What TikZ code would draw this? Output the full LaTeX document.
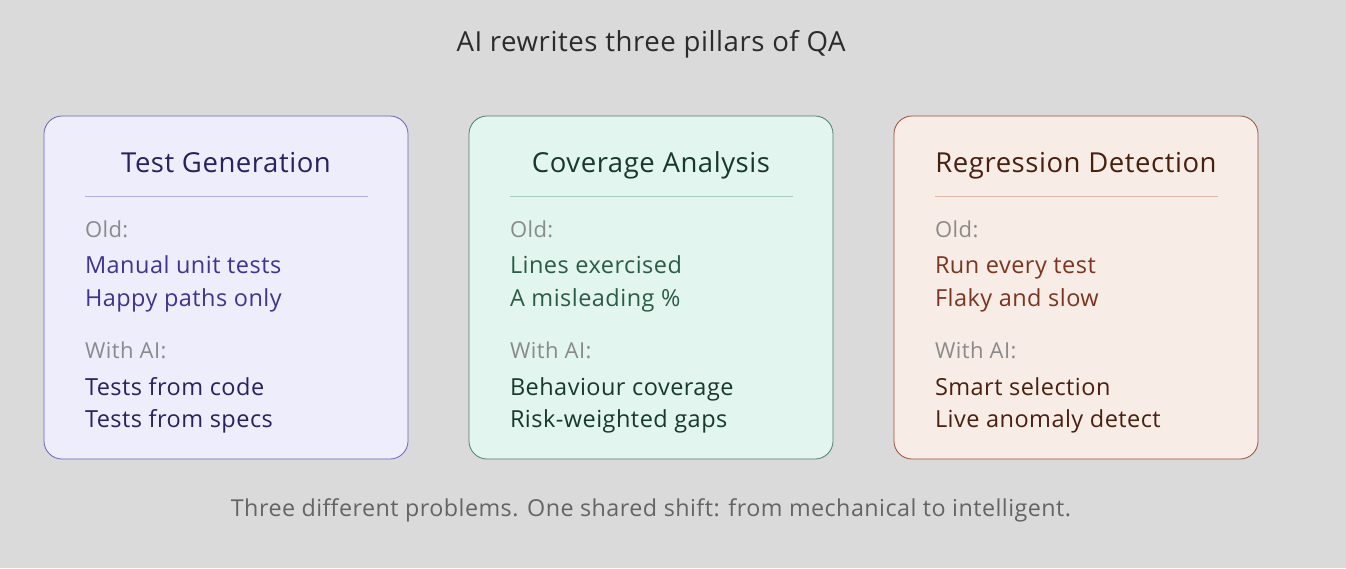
\documentclass[tikz,border=0pt]{standalone}
\usepackage{fontspec}
\setmainfont[LetterSpace=2]{Open Sans}
\begin{document}
\begin{tikzpicture}[x=1pt,y=-1pt,
  every node/.style={inner sep=0pt,outer sep=0pt},
  card/.style={rounded corners=18pt,line width=0.8pt},
  head/.style={anchor=base,font=\fontsize{27.5}{32}\selectfont},
  lab/.style={anchor=base west,font=\fontsize{22}{26}\selectfont,text=labgray},
  item/.style={anchor=base west,font=\fontsize{23.5}{28}\selectfont},
]
\definecolor{bg}{HTML}{DADADA}
\definecolor{labgray}{HTML}{8A8A8A}
\definecolor{titlec}{HTML}{2B2B2B}
\definecolor{footc}{HTML}{646464}
\definecolor{aFill}{HTML}{EEEDFC}\definecolor{aBord}{HTML}{6A62C2}\definecolor{aHead}{HTML}{28225E}\definecolor{aOld}{HTML}{3E3592}\definecolor{aDiv}{HTML}{B3ADEA}
\definecolor{bFill}{HTML}{E3F5EF}\definecolor{bBord}{HTML}{4C8069}\definecolor{bHead}{HTML}{17392C}\definecolor{bOld}{HTML}{2A5C47}\definecolor{bDiv}{HTML}{A9CCBE}
\definecolor{cFill}{HTML}{F8ECE7}\definecolor{cBord}{HTML}{9B5038}\definecolor{cHead}{HTML}{48200F}\definecolor{cOld}{HTML}{7A3620}\definecolor{cDiv}{HTML}{E1B6A6}
\fill[bg] (0,0) rectangle (1346,568);
\useasboundingbox (0,0) rectangle (1346,568);
\node[anchor=base,font=\fontsize{27.6}{32}\selectfont,text=titlec] (title) at (651,51) {AI rewrites three pillars of QA};
\foreach \x/\c/\h/\oa/\ob/\na/\nb in {
  44/a/Test Generation/Manual unit tests/Happy paths only/Tests from code/Tests from specs,
  469/b/Coverage Analysis/Lines exercised/A misleading \%/Behaviour coverage/Risk-weighted gaps,
  894/c/Regression Detection/Run every test/Flaky and slow/Smart selection/Live anomaly detect}{
  \draw[card,fill=\c Fill,draw=\c Bord] (\x,116) rectangle ++(364,343);
  \node[head,text=\c Head] (h\c) at (\x+182,172) {\h};
  \draw[\c Div,line width=0.8pt] (\x+41,196.5) -- (\x+324,196.5);
  \node[lab] (o\c) at (\x+41,237.5) {Old:};
  \node[item,text=\c Old] (oa\c) at (\x+41,273.5) {\oa};
  \node[item,text=\c Old] (ob\c) at (\x+41,306) {\ob};
  \node[lab] (w\c) at (\x+41,358.5) {With AI:};
  \node[item,text=\c Head] (na\c) at (\x+41,395) {\na};
  \node[item,text=\c Head] (nb\c) at (\x+41,427.5) {\nb};
}
\node[anchor=base,font=\fontsize{23.3}{28}\selectfont,text=footc] (foot) at (651,516.5) {Three different problems. One shared shift: from mechanical to intelligent.};
\end{tikzpicture}
\end{document}
